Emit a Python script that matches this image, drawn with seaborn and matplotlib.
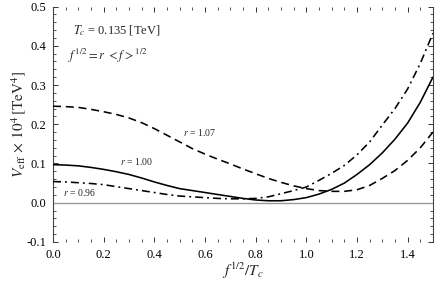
import numpy as np
import pandas as pd
import matplotlib
matplotlib.use("Agg")
import matplotlib.pyplot as plt
from matplotlib.ticker import MultipleLocator, FormatStrFormatter
import seaborn as sns

# f^{1/2}/T_c sample points
x_vals = [0.00, 0.05, 0.10, 0.15, 0.20, 0.25, 0.30, 0.35, 0.40, 0.45,
          0.50, 0.55, 0.60, 0.65, 0.70, 0.75, 0.80, 0.85, 0.90, 0.95,
          1.00, 1.05, 1.10, 1.15, 1.20, 1.25, 1.30, 1.35, 1.40, 1.45, 1.50]

# V_eff x 10^4 for r = 1.07 (dashed)
v_r107 = [0.246, 0.245, 0.243, 0.238, 0.232, 0.225, 0.216, 0.204, 0.189, 0.172,
          0.155, 0.138, 0.124, 0.111, 0.099, 0.086, 0.074, 0.062, 0.052, 0.043,
          0.036, 0.031, 0.029, 0.029, 0.033, 0.044, 0.062, 0.082, 0.108, 0.140, 0.180]

# r = 1.00 (solid)
v_r100 = [0.097, 0.096, 0.094, 0.090, 0.085, 0.079, 0.072, 0.063, 0.053, 0.044,
          0.036, 0.031, 0.026, 0.021, 0.016, 0.011, 0.007, 0.005, 0.005, 0.008,
          0.013, 0.022, 0.034, 0.050, 0.072, 0.097, 0.127, 0.162, 0.203, 0.256, 0.320]

# r = 0.96 (dash-dot)
v_r096 = [0.054, 0.053, 0.051, 0.049, 0.046, 0.041, 0.036, 0.031, 0.026, 0.021,
          0.017, 0.015, 0.013, 0.011, 0.010, 0.010, 0.011, 0.015, 0.023, 0.031,
          0.040, 0.057, 0.075, 0.095, 0.122, 0.155, 0.198, 0.240, 0.290, 0.355, 0.432]

sns.set_style("ticks")
plt.rcParams["font.family"] = ["Liberation Serif", "DejaVu Serif"]
plt.rcParams["mathtext.fontset"] = "stix"

fig = plt.figure(figsize=(4.36, 2.86), dpi=100)
ax = fig.add_axes([0.1216, 0.154, 0.8714, 0.823])

ax.axhline(0, color="#999999", lw=1.0, zorder=1)

curves = [
    (v_r107, (0, (5, 3))),
    (v_r100, "-"),
    (v_r096, (0, (5, 2.5, 1.2, 2.5))),
]
for vals, ls in curves:
    df = pd.DataFrame({"x": x_vals, "v": vals})
    sns.lineplot(data=df, x="x", y="v", ax=ax, color="black",
                 linestyle=ls, linewidth=1.15, zorder=3)

ax.set_xlim(0, 1.5)
ax.set_ylim(-0.1, 0.5)
ax.xaxis.set_major_locator(MultipleLocator(0.2))
ax.xaxis.set_minor_locator(MultipleLocator(0.05))
ax.yaxis.set_major_locator(MultipleLocator(0.1))
ax.yaxis.set_minor_locator(MultipleLocator(0.02))
ax.xaxis.set_major_formatter(FormatStrFormatter("%.1f"))
ax.yaxis.set_major_formatter(FormatStrFormatter("%.1f"))
ax.tick_params(which="both", direction="in", top=True, right=True,
               labelsize=9, colors="#333333", labelcolor="black")
ax.tick_params(which="major", length=3.5, width=0.7, pad=5)
ax.tick_params(which="minor", length=2, width=0.6)

ax.spines["top"].set_visible(False)
ax.spines["bottom"].set_visible(False)
for s in ["left", "right"]:
    ax.spines[s].set_color("#444444")
    ax.spines[s].set_linewidth(0.8)

ax.set_xlabel(r"$f^{1/2}/T_c$", fontsize=11)
ax.set_ylabel(r"$V_{\rm eff}\,\times\,10^4\,[{\rm TeV}^4]$", fontsize=11)
ax.xaxis.set_label_coords(0.5, -0.08)
ax.yaxis.set_label_coords(-0.065, 0.5)

ax.text(0.079, 0.438, r"$T_c$ = 0.135 [TeV]", fontsize=9, va="center")
ax.text(0.059, 0.374, r"$f^{1/2} = r\ <f>^{1/2}$", fontsize=9, va="center")
ax.text(0.513, 0.18, r"$r$ = 1.07", fontsize=7, va="center")
ax.text(0.265, 0.104, r"$r$ = 1.00", fontsize=7, va="center")
ax.text(0.04, 0.025, r"$r$ = 0.96", fontsize=7, va="center")

fig.savefig("out.png", dpi=100)
